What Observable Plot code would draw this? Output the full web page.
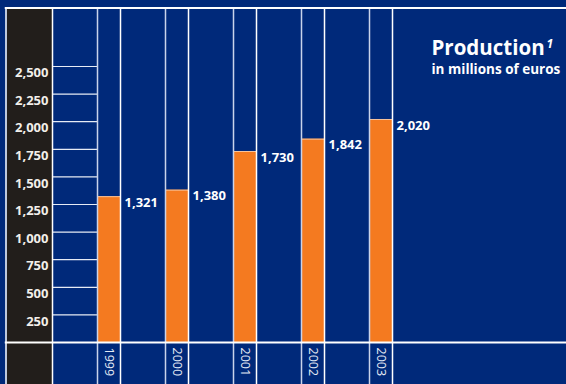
<!DOCTYPE html>
<html>
<head>
<meta charset="utf-8">
<script src="https://cdn.jsdelivr.net/npm/d3@7"></script>
<script src="https://cdn.jsdelivr.net/npm/@observablehq/plot@0.6"></script>
<style>
  html, body { margin: 0; padding: 0; background: #00297a; }
  #chart { width: 566px; height: 384px; overflow: hidden; }
  svg { display: block; }
</style>
</head>
<body>
<div id="chart"></div>
<script>
// ---- data ----
const years = [1999, 2000, 2001, 2002, 2003];
const yearLabels = ["1999", "2000", "2001", "2002", "2003"];
const production = [1321, 1380, 1730, 1842, 2020];
const valueLabels = ["1,321", "1,380", "1,730", "1,842", "2,020"];
const tickValues = [250, 500, 750, 1000, 1250, 1500, 1750, 2000, 2250, 2500];
const tickLabels = ["250", "500", "750", "1,000", "1,250", "1,500", "1,750", "2,000", "2,250", "2,500"];
const titleText = "Production";
const noteMark = "1";
const subtitleText = "in millions of euros";

const data = years.map((y, i) => ({
  year: y, value: production[i], label: valueLabels[i], yearLabel: yearLabels[i]
}));

// ---- layout (scale geometry) ----
const STEP = 68, BAR = 23;
const X0 = 108.5, Y0 = 342, Y2500 = 66;
const HALF = BAR / 2 / STEP;                       // bar half-width in years
const xAt = px => years[0] + (px - X0) / STEP;      // pixel -> year units (decor only)
const yAt = px => 2500 * (Y0 - px) / (Y0 - Y2500);  // pixel -> value units (decor only)

const NAVY = "#00297a", STRIP = "#221e1b", ORANGE = "#f47a20";
const font = "'Open Sans', 'DejaVu Sans', sans-serif";

const edges = [years[0] - 1 + HALF, ...years.flatMap(y => [y - HALF, y + HALF])];
const edgeColors = ["#ffffff", ...years.flatMap(() => ["#c9d3ea", "#ffffff"])];

const plot = Plot.plot({
  width: 566,
  height: 384,
  margin: 0,
  style: { background: NAVY, fontFamily: font, overflow: "hidden" },
  x: { type: "linear", domain: [years[0], years[4]], range: [X0, X0 + 4 * STEP], axis: null },
  y: { domain: [0, 2500], range: [Y0, Y2500], axis: null },
  marks: [
    // dark label strip
    Plot.rect([0], { x1: xAt(7), x2: years[0] - 1 + HALF, y1: yAt(8), y2: yAt(384), fill: STRIP }),
    // gridlines in first column
    Plot.ruleY(tickValues, { x1: years[0] - 1 + HALF, x2: years[0] - HALF, stroke: "#e6ebf5", strokeWidth: 1.2 }),
    // tick labels
    Plot.text(tickValues, {
      x: years[0] - 1 + HALF, y: d => d, text: (d, i) => tickLabels[i],
      textAnchor: "end", lineAnchor: "top", dx: -4, dy: 1.5,
      fill: "#f2efea", fontWeight: "bold", fontSize: 13, fontFamily: font
    }),
    // bars
    Plot.rect(data, { x1: d => d.year - HALF, x2: d => d.year + HALF, y1: 0, y2: "value", fill: ORANGE }),
    Plot.ruleY(data, { y: "value", x1: d => d.year - HALF, x2: d => d.year + HALF, stroke: "#f7c39b", strokeWidth: 1 }),
    // vertical column lines
    Plot.ruleX(edges, { x: d => d, y1: yAt(8), y2: yAt(384), stroke: (d, i) => edgeColors[i], strokeWidth: 1.5 }),
    // frame lines
    Plot.ruleX([xAt(5.5)], { x: d => d, y1: yAt(7), y2: yAt(384), stroke: "#ffffff", strokeWidth: 1.5 }),
    Plot.ruleY([yAt(7.5)], { y: d => d, x1: xAt(4.75), x2: xAt(570), stroke: "#ffffff", strokeWidth: 2 }),
    Plot.ruleY([0], { y: d => d, x1: xAt(4.75), x2: xAt(570), stroke: "#ffffff", strokeWidth: 2.2 }),
    // value labels
    Plot.text(data, {
      x: d => d.year + HALF, y: "value", text: "label",
      textAnchor: "start", lineAnchor: "middle", dx: 4, dy: 6,
      fill: "#ffffff", fontWeight: "bold", fontSize: 13, fontFamily: font
    }),
    // year labels (rotated)
    Plot.text(data, {
      x: "year", y: 0, text: "yearLabel", rotate: 90,
      textAnchor: "start", lineAnchor: "middle", dy: 5,
      fill: "#e4e9f4", fontSize: 12.5, fontFamily: font
    }),
    // title
    Plot.text([titleText], {
      frameAnchor: "top-left", dx: 431, dy: 40, lineAnchor: "top",
      fill: "#ffffff", fontWeight: "bold", fontSize: 20.5, fontFamily: font
    }),
    Plot.text([noteMark], {
      frameAnchor: "top-left", dx: 546, dy: 39, lineAnchor: "top",
      fill: "#ffffff", fontWeight: "bold", fontStyle: "italic", fontSize: 12, fontFamily: font
    }),
    Plot.text([subtitleText], {
      frameAnchor: "top-left", dx: 431, dy: 64, lineAnchor: "top",
      fill: "#ffffff", fontWeight: "bold", fontSize: 13.5, fontFamily: font
    })
  ]
});

document.getElementById("chart").appendChild(plot);
</script>
</body>
</html>
